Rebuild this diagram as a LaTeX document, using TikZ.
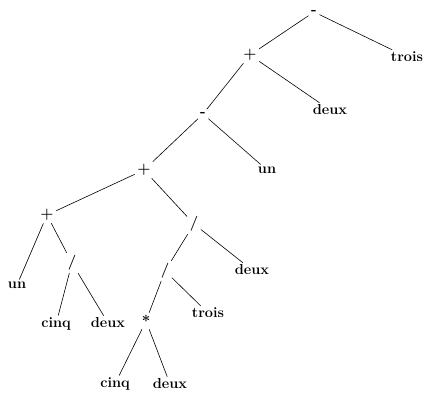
\documentclass[tikz,border=0pt]{standalone}
\begin{document}
\begin{tikzpicture}[x=1pt,y=-1pt,
  op/.style={inner sep=2.5pt,font=\fontsize{15}{17}\selectfont\bfseries},
  leaf/.style={inner sep=2pt,font=\fontsize{14.5}{17}\selectfont\bfseries},
  edge/.style={line width=0.6pt}]
\useasboundingbox (0,0) rectangle (423,393);
\node[op] (r) at (314,12) {-};
\node[op] (p1) at (250,55) {+};
\node[leaf] (t1) at (407,57) {trois};
\node[op] (m1) at (203,114) {-};
\node[leaf] (d1) at (330,110) {deux};
\node[op] (p2) at (144,170) {+};
\node[leaf] (u1) at (267,170) {un};
\node[op] (p3) at (47,215) {+};
\node[op] (s1) at (194,224) {/};
\node[leaf] (u2) at (17,285) {un};
\node[op] (s2) at (72,263) {/};
\node[leaf] (c1) at (56,324) {cinq};
\node[leaf] (d2) at (108,323) {deux};
\node[op] (s3) at (165,271) {/};
\node[leaf] (d3) at (252,270) {deux};
\node[op] (st) at (146,321) {*};
\node[leaf] (t2) at (208,313) {trois};
\node[leaf] (c2) at (115,384) {cinq};
\node[leaf] (d4) at (170,384) {deux};
\draw[edge] (r) -- (p1);
\draw[edge] (r) -- (t1);
\draw[edge] (p1) -- (m1);
\draw[edge] (p1) -- (d1);
\draw[edge] (m1) -- (p2);
\draw[edge] (m1) -- (u1);
\draw[edge] (p2) -- (p3);
\draw[edge] (p2) -- (s1);
\draw[edge] (p3) -- (u2);
\draw[edge] (p3) -- (s2);
\draw[edge] (s2) -- (c1);
\draw[edge] (s2) -- (d2);
\draw[edge] (s1) -- (s3);
\draw[edge] (s1) -- (d3);
\draw[edge] (s3) -- (st);
\draw[edge] (s3) -- (t2);
\draw[edge] (st) -- (c2);
\draw[edge] (st) -- (d4);
\end{tikzpicture}
\end{document}
